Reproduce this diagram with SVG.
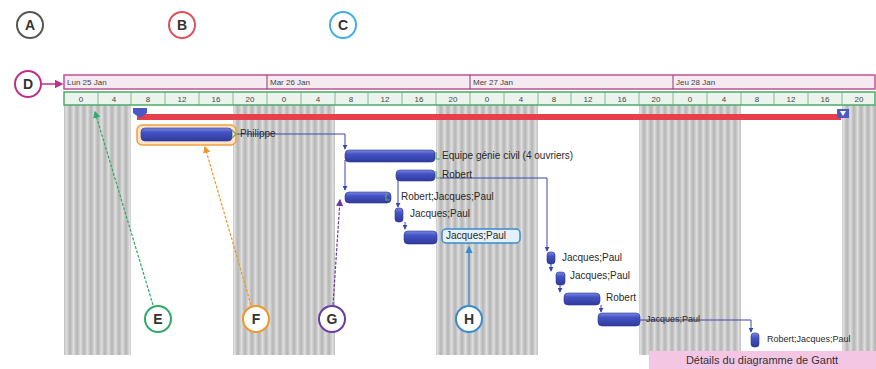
<svg xmlns="http://www.w3.org/2000/svg" width="876" height="369" viewBox="0 0 876 369">
<style>
.hdr{font-family:"Liberation Sans",Arial,sans-serif;font-size:8px;fill:#444}
.lbl{font-family:"Liberation Sans",Arial,sans-serif;font-size:10px;fill:#2a2a2a}
.co{fill:#fff;stroke-width:2}
.cot{font-family:"Liberation Sans",Arial,sans-serif;font-size:14px;font-weight:bold;fill:#333;text-anchor:middle}
.bar{fill:url(#bg);stroke:#2c3690;stroke-width:0.6}
.cn{fill:none;stroke:#3a46a8;stroke-width:1}
.flag{fill:none;stroke:#5fae5f;stroke-width:1.2}
</style>
<defs>
<linearGradient id="sg" x1="0" y1="0" x2="1" y2="0">
<stop offset="0" stop-color="#b4b4b4"/>
<stop offset="0.5" stop-color="#dedede"/>
<stop offset="1" stop-color="#b4b4b4"/>
</linearGradient>
<pattern id="gs" patternUnits="userSpaceOnUse" width="7" height="10">
<rect width="7" height="10" fill="url(#sg)"/>
</pattern>
<linearGradient id="bg" x1="0" y1="0" x2="0" y2="1">
<stop offset="0" stop-color="#7a86e0"/>
<stop offset="0.35" stop-color="#4453c4"/>
<stop offset="1" stop-color="#2f3a9c"/>
</linearGradient>
<marker id="ab" viewBox="0 0 6 6" refX="5" refY="3" markerWidth="5" markerHeight="5" orient="auto"><path d="M0,0 L6,3 L0,6 z" fill="#3a46a8"/></marker>
<marker id="am" viewBox="0 0 6 6" refX="5" refY="3" markerWidth="6" markerHeight="6" orient="auto"><path d="M0,0 L6,3 L0,6 z" fill="#c0308a"/></marker>
<marker id="ag" viewBox="0 0 6 6" refX="5" refY="3" markerWidth="6" markerHeight="6" orient="auto"><path d="M0,0 L6,3 L0,6 z" fill="#2eaa6a"/></marker>
<marker id="ao" viewBox="0 0 6 6" refX="5" refY="3" markerWidth="6" markerHeight="6" orient="auto"><path d="M0,0 L6,3 L0,6 z" fill="#f0962a"/></marker>
<marker id="ap" viewBox="0 0 6 6" refX="5" refY="3" markerWidth="6" markerHeight="6" orient="auto"><path d="M0,0 L6,3 L0,6 z" fill="#6a3aa8"/></marker>
<marker id="ah" viewBox="0 0 6 6" refX="5" refY="3" markerWidth="6" markerHeight="6" orient="auto"><path d="M0,0 L6,3 L0,6 z" fill="#3a8ad0"/></marker>
</defs>

<!-- non-working shading -->
<g id="shading" fill="url(#gs)">
<rect x="64" y="105" width="67" height="250"/>
<rect x="233" y="105" width="102" height="250"/>
<rect x="436" y="105" width="102" height="250"/>
<rect x="639" y="105" width="102" height="250"/>
<rect x="842" y="105" width="34" height="250"/>
</g>

<!-- timescale -->
<g id="timescale">
<rect x="64" y="75" width="811" height="14" fill="#f4eaf0" stroke="#c0509a" stroke-width="1.5"/>
<g stroke="#8a3a70" stroke-width="1"><line x1="267" y1="75" x2="267" y2="89"/><line x1="470" y1="75" x2="470" y2="89"/><line x1="673" y1="75" x2="673" y2="89"/></g>
<text class="hdr" x="67" y="85">Lun 25 Jan</text>
<text class="hdr" x="270" y="85">Mar 26 Jan</text>
<text class="hdr" x="473" y="85">Mer 27 Jan</text>
<text class="hdr" x="676" y="85">Jeu 28 Jan</text>
<rect x="64" y="92" width="811" height="13" fill="#eaf4ec" stroke="#4caa6a" stroke-width="1.5"/>
<g stroke="#6aa87a" stroke-width="0.8">
<line x1="98" y1="92" x2="98" y2="105"/><line x1="131" y1="92" x2="131" y2="105"/><line x1="165" y1="92" x2="165" y2="105"/><line x1="199" y1="92" x2="199" y2="105"/><line x1="233" y1="92" x2="233" y2="105"/><line x1="267" y1="92" x2="267" y2="105"/>
<line x1="301" y1="92" x2="301" y2="105"/><line x1="335" y1="92" x2="335" y2="105"/><line x1="368" y1="92" x2="368" y2="105"/><line x1="402" y1="92" x2="402" y2="105"/><line x1="436" y1="92" x2="436" y2="105"/><line x1="470" y1="92" x2="470" y2="105"/>
<line x1="504" y1="92" x2="504" y2="105"/><line x1="538" y1="92" x2="538" y2="105"/><line x1="571" y1="92" x2="571" y2="105"/><line x1="605" y1="92" x2="605" y2="105"/><line x1="639" y1="92" x2="639" y2="105"/><line x1="673" y1="92" x2="673" y2="105"/>
<line x1="707" y1="92" x2="707" y2="105"/><line x1="741" y1="92" x2="741" y2="105"/><line x1="774" y1="92" x2="774" y2="105"/><line x1="808" y1="92" x2="808" y2="105"/><line x1="842" y1="92" x2="842" y2="105"/>
</g>
<g class="hdr" text-anchor="middle">
<text x="81" y="102">0</text><text x="114" y="102">4</text><text x="148" y="102">8</text><text x="182" y="102">12</text><text x="216" y="102">16</text><text x="250" y="102">20</text>
<text x="284" y="102">0</text><text x="318" y="102">4</text><text x="351" y="102">8</text><text x="385" y="102">12</text><text x="419" y="102">16</text><text x="453" y="102">20</text>
<text x="487" y="102">0</text><text x="521" y="102">4</text><text x="554" y="102">8</text><text x="588" y="102">12</text><text x="622" y="102">16</text><text x="656" y="102">20</text>
<text x="690" y="102">0</text><text x="724" y="102">4</text><text x="757" y="102">8</text><text x="791" y="102">12</text><text x="825" y="102">16</text><text x="859" y="102">20</text>
</g>
</g>

<!-- summary / critical bar -->
<g id="summary">
<rect x="137" y="114" width="704" height="6" fill="#e8404a"/>
<path d="M133,108 H147 V113 L140,118 L133,113 Z" fill="#4a58c8"/>
<rect x="837" y="109" width="12" height="9" fill="#4a58c8"/>
<path d="M840,111 h6 l-3,5 z" fill="#fff"/>
</g>

<!-- connectors -->
<g id="connectors">
<path class="cn" d="M236,134 H345 V149" marker-end="url(#ab)"/>
<path class="cn" d="M345,160 V190" marker-end="url(#ab)"/>
<path class="cn" d="M398,180 V207" marker-end="url(#ab)"/>
<path class="cn" d="M405,222 V229" marker-end="url(#ab)"/>
<path class="cn" d="M440,178 H547 V251" marker-end="url(#ab)"/>
<path class="cn" d="M551,263 V271" marker-end="url(#ab)"/>
<path class="cn" d="M560,285 V292" marker-end="url(#ab)"/>
<path class="cn" d="M601,305 V312" marker-end="url(#ab)"/>
<path class="cn" d="M640,320 H751 V332" marker-end="url(#ab)"/>
</g>

<!-- tasks -->
<g id="t1">
<rect x="137" y="125" width="99" height="20" rx="5" fill="#fbe3c8" stroke="#f0a040" stroke-width="1.5"/>
<rect class="bar" x="141" y="128" width="91" height="13" rx="4"/>
<path class="flag" d="M232,130 l4,4 l-4,4"/>
<text class="lbl" x="240" y="137">Philippe</text>
</g>
<g id="t2">
<rect class="bar" x="345" y="150" width="90" height="12" rx="4"/>
<path class="flag" d="M436,152 v7 h4"/>
<text class="lbl" x="442" y="159">Equipe génie civil (4 ouvriers)</text>
</g>
<g id="t3">
<rect class="bar" x="396" y="170" width="39" height="11" rx="4"/>
<path class="flag" d="M436,171 v7 h4"/>
<text class="lbl" x="442" y="178">Robert</text>
</g>
<g id="t4">
<rect class="bar" x="345" y="192" width="46" height="11" rx="4"/>
<path class="flag" d="M386,193 v7 h4"/>
<text class="lbl" x="401" y="200">Robert;Jacques;Paul</text>
</g>
<g id="t5">
<rect class="bar" x="395" y="208" width="8" height="14" rx="3"/>
<text class="lbl" x="410" y="217">Jacques;Paul</text>
</g>
<g id="t6">
<rect class="bar" x="404" y="231" width="33" height="13" rx="4"/>
<rect x="442" y="229" width="78" height="14" rx="4" fill="#e4f0fa" stroke="#3a8ad0" stroke-width="1.5"/>
<text class="lbl" x="446" y="239">Jacques;Paul</text>
</g>
<g id="t7">
<rect class="bar" x="547" y="252" width="8" height="12" rx="3"/>
<text class="lbl" x="562" y="261">Jacques;Paul</text>
</g>
<g id="t8">
<rect class="bar" x="556" y="272" width="9" height="13" rx="3"/>
<text class="lbl" x="570" y="279">Jacques;Paul</text>
</g>
<g id="t9">
<rect class="bar" x="564" y="293" width="36" height="12" rx="4"/>
<text class="lbl" x="606" y="301">Robert</text>
</g>
<g id="t10">
<rect class="bar" x="598" y="313" width="42" height="13" rx="4"/>
<text class="lbl" x="646" y="322" style="font-size:9px">Jacques;Paul</text>
</g>
<g id="t11">
<rect class="bar" x="751" y="333" width="8" height="14" rx="3"/>
<text class="lbl" x="767" y="342" style="font-size:9px">Robert;Jacques;Paul</text>
</g>

<!-- callouts -->
<g id="callouts">
<path d="M42,84 H62" stroke="#c0308a" stroke-width="1.5" marker-end="url(#am)"/>
<path d="M153,305 L95,112" stroke="#2eaa6a" stroke-width="1.2" stroke-dasharray="3,1.5" marker-end="url(#ag)"/>
<path d="M251,305 L205,147" stroke="#f0962a" stroke-width="1.2" stroke-dasharray="3,1.5" marker-end="url(#ao)"/>
<path d="M333,305 L340,200" stroke="#6a3aa8" stroke-width="1.2" stroke-dasharray="3,1.5" marker-end="url(#ap)"/>
<path d="M469,305 V247" stroke="#3a8ad0" stroke-width="1.2" marker-end="url(#ah)"/>
</g>
<g id="cA"><circle class="co" cx="30" cy="25" r="13" stroke="#555"/><text class="cot" x="30" y="30">A</text></g>
<g id="cB"><circle class="co" cx="182" cy="25" r="13" stroke="#e0505a"/><text class="cot" x="182" y="30">B</text></g>
<g id="cC"><circle class="co" cx="343" cy="25" r="13" stroke="#40b0e0"/><text class="cot" x="343" y="30">C</text></g>
<g id="cD"><circle class="co" cx="28" cy="84" r="13" stroke="#c0308a"/><text class="cot" x="28" y="89">D</text></g>
<g id="cE"><circle class="co" cx="158" cy="319" r="13" stroke="#2eaa6a"/><text class="cot" x="158" y="324">E</text></g>
<g id="cF"><circle class="co" cx="256" cy="319" r="13" stroke="#f0962a"/><text class="cot" x="256" y="324">F</text></g>
<g id="cG"><circle class="co" cx="332" cy="319" r="13" stroke="#6a3aa8"/><text class="cot" x="332" y="324">G</text></g>
<g id="cH"><circle class="co" cx="469" cy="319" r="13" stroke="#3a8ad0"/><text class="cot" x="469" y="324">H</text></g>

<!-- caption -->
<g id="caption">
<rect x="649" y="351" width="227" height="18" fill="#f4c6e4"/>
<text x="762" y="364" text-anchor="middle" style="font-family:'Liberation Sans',Arial,sans-serif;font-size:11px;fill:#333">Détails du diagramme de Gantt</text>
</g>
</svg>
